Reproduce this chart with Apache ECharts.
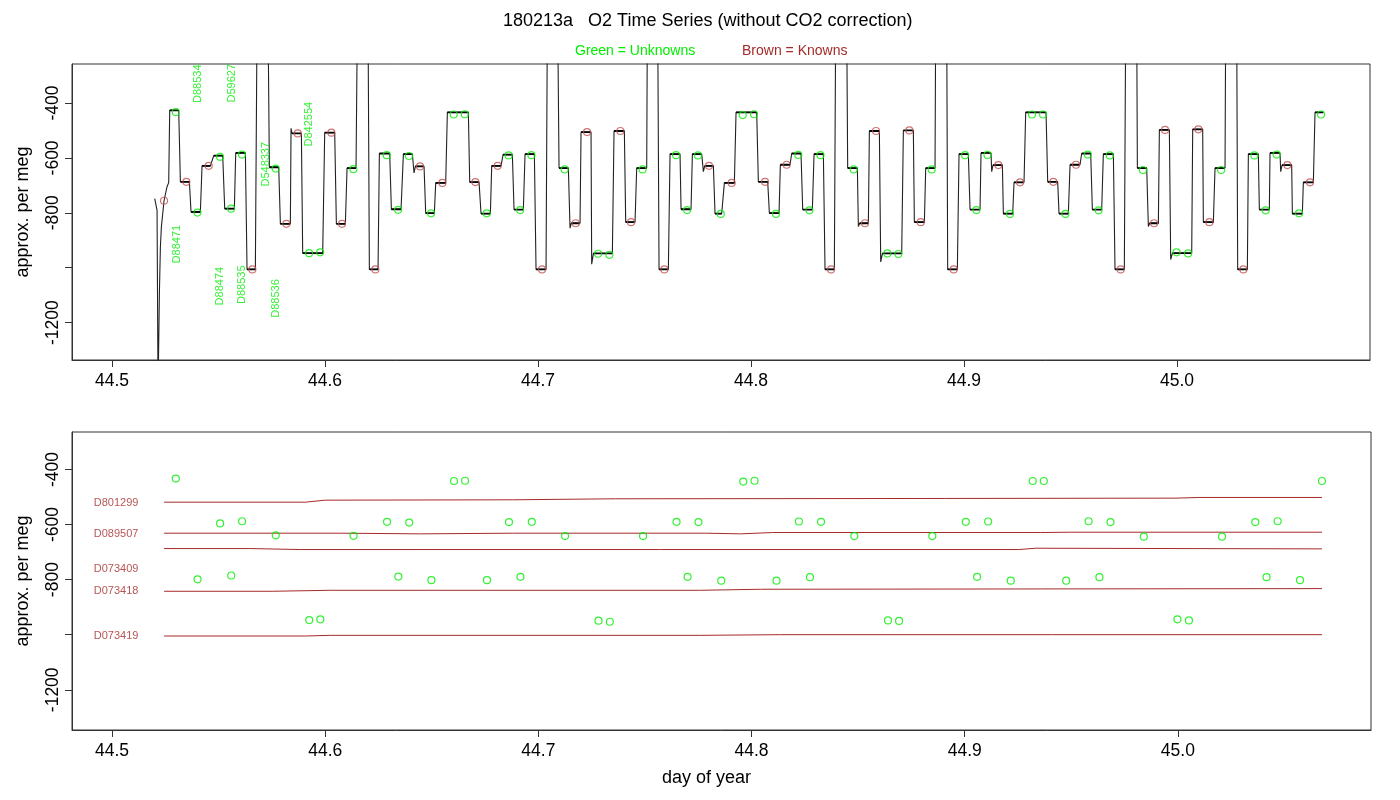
<!DOCTYPE html>
<html>
<head>
<meta charset="utf-8">
<script src="https://cdn.jsdelivr.net/npm/echarts@6/dist/echarts.min.js"></script>
<style>
html, body { margin: 0; padding: 0; background: #fff; }
#chart { width: 1400px; height: 800px; }
</style>
</head>
<body>
<div id="chart"></div>
<script>
// axis ticks
var dayTicks = [44.5, 44.6, 44.7, 44.8, 44.9, 45.0];
var megTicks = [-1200, -1000, -800, -600, -400];
var megLabels = [-1200, -800, -600, -400];

// plateaus of the raw O2 trace (start day, end day, level)
var stepStart = [44.52707, 44.53208, 44.53709, 44.54225, 44.54773, 44.55290, 44.55806, 44.56338, 44.56808, 44.57386,
  44.57903, 44.58450, 44.58951, 44.59984, 44.60532, 44.61033, 44.61518, 44.62081, 44.62551, 44.63114,
  44.63678, 44.64240, 44.64726, 44.65196, 44.65743, 44.66792, 44.67324, 44.67825, 44.68357, 44.68873,
  44.69390, 44.69906, 44.70438, 44.70986, 44.71560, 44.72019, 44.72600, 44.73568, 44.74116, 44.74632,
  44.75133, 44.75681, 44.76197, 44.76714, 44.77246, 44.77825, 44.78310, 44.78748, 44.79296, 44.80344,
  44.80861, 44.81377, 44.81909, 44.82426, 44.82958, 44.83474, 44.83975, 44.84538, 44.85100, 44.85556,
  44.86170, 44.87152, 44.87668, 44.88201, 44.88670, 44.89233, 44.89765, 44.90282, 44.90798, 44.91360,
  44.91847, 44.92347, 44.92895, 44.93928, 44.94460, 44.94977, 44.95524, 44.96025, 44.96541, 44.97089,
  44.97590, 44.98138, 44.98715, 44.99171, 44.99785, 45.00736, 45.01236, 45.01784, 45.02285, 45.02848,
  45.03349, 45.03865, 45.04366, 45.04930, 45.05415, 45.05931, 45.06479];
var stepEnd = [44.53130, 44.53631, 44.54147, 44.54617, 44.55196, 44.55743, 44.56260, 44.56729, 44.57324, 44.57825,
  44.58372, 44.58889, 44.59890, 44.60454, 44.60955, 44.61455, 44.62019, 44.62488, 44.63036, 44.63568,
  44.64100, 44.64648, 44.65133, 44.65665, 44.66729, 44.67230, 44.67762, 44.68263, 44.68795, 44.69311,
  44.69828, 44.70376, 44.70923, 44.71424, 44.71972, 44.72488, 44.73490, 44.74053, 44.74554, 44.75102,
  44.75618, 44.76119, 44.76667, 44.77183, 44.77684, 44.78232, 44.78623, 44.79218, 44.80266, 44.80783,
  44.81315, 44.81831, 44.82347, 44.82880, 44.83396, 44.83912, 44.84491, 44.84992, 44.85509, 44.86025,
  44.87074, 44.87621, 44.88138, 44.88638, 44.89186, 44.89687, 44.90203, 44.90751, 44.91268, 44.91800,
  44.92285, 44.92817, 44.93850, 44.94397, 44.94898, 44.95446, 44.95947, 44.96463, 44.97011, 44.97527,
  44.98107, 44.98576, 44.99124, 44.99640, 45.00689, 45.01205, 45.01706, 45.02254, 45.02801, 45.03302,
  45.03818, 45.04335, 45.04836, 45.05383, 45.05884, 45.06401, 45.06870];
var stepValue = [-427, -687, -797, -629, -592, -785, -582, -1006, -100, -634,
  -840, -511, -947, -508, -840, -637, -100, -1006, -584, -787,
  -586, -631, -801, -691, -434, -688, -803, -629, -588, -788,
  -586, -1006, -100, -637, -838, -506, -948, -502, -834, -637,
  -100, -1006, -586, -787, -586, -629, -803, -691, -434, -687,
  -801, -625, -584, -788, -586, -1006, -100, -637, -838, -502,
  -948, -500, -834, -637, -100, -1006, -586, -788, -582, -626,
  -803, -689, -434, -687, -803, -625, -584, -788, -586, -1006,
  -100, -637, -838, -498, -947, -496, -834, -637, -100, -1006,
  -586, -788, -582, -626, -803, -689, -434];

// start-up transient and overshoots at the start of some plateaus
var extraTime = [44.52003, 44.52113, 44.52160, 44.52191, 44.52222, 44.52269, 44.52316, 44.52441, 44.52582, 44.52660,
  44.58404, 44.64178, 44.71502, 44.72519, 44.77762, 44.85039, 44.86088, 44.91299, 44.98654, 44.99703, 45.04867];
var extraValue = [-748, -791, -1450, -1450, -1098, -926, -852, -756, -705, -690,
  -492, -655, -856, -987, -650, -850, -979, -650, -850, -970, -650];

// unknowns (green)
var unknownTime = [44.5299, 44.5401, 44.5507, 44.5559, 44.5610, 44.5768, 44.5925, 44.5977, 44.6133, 44.6290,
  44.6343, 44.6394, 44.6498, 44.6604, 44.6656, 44.6759, 44.6862, 44.6916, 44.6969, 44.7125,
  44.7282, 44.7335, 44.7491, 44.7648, 44.7700, 44.7751, 44.7858, 44.7961, 44.8014, 44.8117,
  44.8222, 44.8274, 44.8326, 44.8482, 44.8640, 44.8692, 44.8848, 44.9005, 44.9058, 44.9110,
  44.9216, 44.9319, 44.9371, 44.9476, 44.9581, 44.9632, 44.9684, 44.9840, 44.9998, 45.0052,
  45.0207, 45.0363, 45.0416, 45.0468, 45.0573, 45.0676];
var unknownValue = [-433, -799, -596, -785, -588, -639, -947, -944, -641, -590,
  -789, -593, -802, -442, -441, -802, -591, -790, -590, -642,
  -949, -953, -642, -590, -790, -591, -804, -444, -441, -804,
  -589, -791, -590, -642, -948, -950, -642, -590, -790, -589,
  -804, -442, -442, -804, -588, -791, -591, -644, -944, -948,
  -644, -591, -791, -588, -802, -442];

// knowns (brown) on the raw trace
var knownTime = [44.52441, 44.53490, 44.54538, 44.56588, 44.58184, 44.58717, 44.60297, 44.60798, 44.62363, 44.64460,
  44.65509, 44.67058, 44.68106, 44.70188, 44.71768, 44.72300, 44.73865, 44.74366, 44.75931, 44.78028,
  44.79092, 44.80657, 44.81675, 44.83756, 44.85352, 44.85869, 44.87433, 44.87966, 44.89515, 44.91612,
  44.92629, 44.94194, 44.95258, 44.97355, 44.98920, 44.99437, 45.01001, 45.01518, 45.03114, 45.05180,
  45.06244];
var knownValue = [-756, -687, -629, -1006, -840, -511, -508, -840, -1006, -631,
  -691, -688, -629, -1006, -838, -506, -502, -834, -1006, -629,
  -691, -687, -625, -1006, -838, -502, -500, -834, -1006, -626,
  -689, -687, -625, -1006, -838, -498, -496, -834, -1006, -626,
  -689];

// tank names written on the raw trace
var tankNames = ['D88534', 'D59627', 'D548337', 'D842554', 'D88471', 'D88474', 'D88535', 'D88536'];
var tankTime = [44.5404, 44.5561, 44.5721, 44.5925, 44.5303, 44.5507, 44.5610, 44.5768];
var tankValue = [-330, -328, -623, -477, -914, -1067, -1062, -1112];

// fitted known lines in the lower panel
var refNames = ['D801299', 'D089507', 'D073409', 'D073418', 'D073419'];
var refLabelValue = [-521, -634, -761, -842, -1006];
var ref1Time = [44.52441, 44.59061, 44.6, 44.68779, 44.73615, 44.89108, 44.99906, 45.00986, 45.06761];
var ref1Value = [-518.8, -518.8, -511.5, -510.2, -506.5, -505.3, -504.1, -501.7, -501.7];
var ref2Time = [44.52441, 44.60704, 44.64460, 44.68779, 44.77840, 44.79484, 44.80986, 44.93568, 44.94977, 45.06761];
var ref2Value = [-631.4, -631.4, -633.8, -631.4, -631.4, -633.8, -629, -629, -627.8, -627.8];
var ref3Time = [44.52441, 44.56479, 44.58826, 44.92535, 44.93333, 45.06761];
var ref3Value = [-687.2, -687.2, -690.8, -690.8, -686, -688.4];
var ref4Time = [44.52441, 44.57512, 44.60235, 44.77606, 44.80423, 45.06761];
var ref4Value = [-842.3, -842.3, -838.7, -838.7, -835, -832.6];
var ref5Time = [44.52441, 44.59061, 44.60235, 44.77606, 44.81362, 45.06761];
var ref5Value = [-1004.7, -1004.7, -1002.3, -1002.3, -999.9, -999.9];

var FONT = 'Liberation Sans, Arial, sans-serif';
var GREEN = '#00ee00';
var BROWN = '#a52a2a';
var PINK = '#c05050';

function zip(a, b) {
  var out = [];
  for (var i = 0; i < a.length; i++) out.push([a[i], b[i]]);
  return out;
}

// trace = plateau corners + extra points, in time order
var trace = [];
var plateaus = [];
for (var i = 0; i < stepStart.length; i++) {
  trace.push([stepStart[i], stepValue[i]]);
  trace.push([stepEnd[i], stepValue[i]]);
  if (stepValue[i] > -250) continue;
  plateaus.push([stepStart[i], stepValue[i]]);
  plateaus.push([stepEnd[i], stepValue[i]]);
  plateaus.push(null);
}
trace = trace.concat(zip(extraTime, extraValue));
trace.sort(function(a, b) { return a[0] - b[0]; });

var tankData = [];
for (var k = 0; k < tankNames.length; k++) {
  tankData.push({ name: tankNames[k], value: [tankTime[k], tankValue[k]] });
}
var refLabelData = [];
for (var r = 0; r < refNames.length; r++) {
  refLabelData.push({ name: refNames[r], value: [44.5126, refLabelValue[r]] });
}

function xAx(grid) {
  return {
    gridIndex: grid, type: 'value', min: 44.4812, max: 45.0906,
    axisLine: { show: true, lineStyle: { color: '#333' } },
    axisTick: { show: true, customValues: dayTicks, length: 7, lineStyle: { color: '#333' } },
    axisLabel: { customValues: dayTicks, margin: 12, fontSize: 17.5, color: '#000', fontFamily: FONT,
      formatter: function(v) { return v.toFixed(1); } },
    splitLine: { show: false }
  };
}
function yAx(grid, lo, hi) {
  return {
    gridIndex: grid, type: 'value', min: lo, max: hi,
    name: 'approx. per meg', nameLocation: 'middle', nameGap: 40,
    nameTextStyle: { fontSize: 18, color: '#000', fontFamily: FONT },
    axisLine: { show: true, lineStyle: { color: '#333' } },
    axisTick: { show: true, customValues: megTicks, length: 7, lineStyle: { color: '#333' } },
    axisLabel: { customValues: megLabels, rotate: 90, margin: 10, fontSize: 17.5, color: '#000', fontFamily: FONT,
      formatter: function(v) { return String(v); } },
    splitLine: { show: false }
  };
}
function refLine(t, v) {
  return { type: 'line', xAxisIndex: 1, yAxisIndex: 1, data: zip(t, v), symbol: 'none',
    lineStyle: { color: BROWN, width: 1 }, silent: true, z: 2 };
}
function ring(color) {
  return { color: 'rgba(0,0,0,0)', borderColor: color, borderWidth: 1.2 };
}

var chart = echarts.init(document.getElementById('chart'));
chart.setOption({
  backgroundColor: '#fff',
  animation: false,
  grid: [
    { left: 72, top: 64, width: 1298, height: 296, show: true, borderColor: '#333', borderWidth: 1 },
    { left: 72, top: 432, width: 1299, height: 298, show: true, borderColor: '#333', borderWidth: 1 }
  ],
  xAxis: [xAx(0), xAx(1)],
  yAxis: [yAx(0, -1336, -258), yAx(1, -1346, -264)],
  graphic: [
    { type: 'text', left: 503, top: 12, style: { text: '180213a   O2 Time Series (without CO2 correction)',
      font: '18px ' + FONT, fill: '#000' } },
    { type: 'text', left: 575, top: 44, style: { text: 'Green = Unknowns', font: '14px ' + FONT, fill: GREEN } },
    { type: 'text', left: 742, top: 44, style: { text: 'Brown = Knowns', font: '14px ' + FONT, fill: BROWN } },
    { type: 'text', left: 662, top: 769, style: { text: 'day of year', font: '18px ' + FONT, fill: '#000' } }
  ],
  series: [
    { type: 'line', data: trace, symbol: 'none', lineStyle: { color: '#222', width: 1.1 }, z: 2 },
    { type: 'line', data: plateaus, symbol: 'none', connectNulls: false, lineStyle: { color: '#000', width: 1.8 }, z: 3 },
    { type: 'scatter', data: zip(unknownTime, unknownValue), symbol: 'circle', symbolSize: 7,
      itemStyle: ring(GREEN), z: 4 },
    { type: 'scatter', data: zip(knownTime, knownValue), symbol: 'circle', symbolSize: 7,
      itemStyle: ring(PINK), z: 4 },
    { type: 'scatter', data: tankData, symbolSize: 1, itemStyle: { color: 'rgba(0,0,0,0)' },
      label: { show: true, position: 'inside', rotate: 90, formatter: '{b}', fontSize: 11,
        color: GREEN, fontFamily: FONT }, z: 5 },
    refLine(ref1Time, ref1Value),
    refLine(ref2Time, ref2Value),
    refLine(ref3Time, ref3Value),
    refLine(ref4Time, ref4Value),
    refLine(ref5Time, ref5Value),
    { type: 'scatter', xAxisIndex: 1, yAxisIndex: 1, data: zip(unknownTime, unknownValue), symbol: 'circle',
      symbolSize: 7, itemStyle: ring(GREEN), z: 4 },
    { type: 'scatter', xAxisIndex: 1, yAxisIndex: 1, data: refLabelData, symbolSize: 1,
      itemStyle: { color: 'rgba(0,0,0,0)' },
      label: { show: true, position: 'left', distance: 0, formatter: '{b}', fontSize: 11,
        color: BROWN, fontFamily: FONT }, z: 5 }
  ]
});
</script>
</body>
</html>
